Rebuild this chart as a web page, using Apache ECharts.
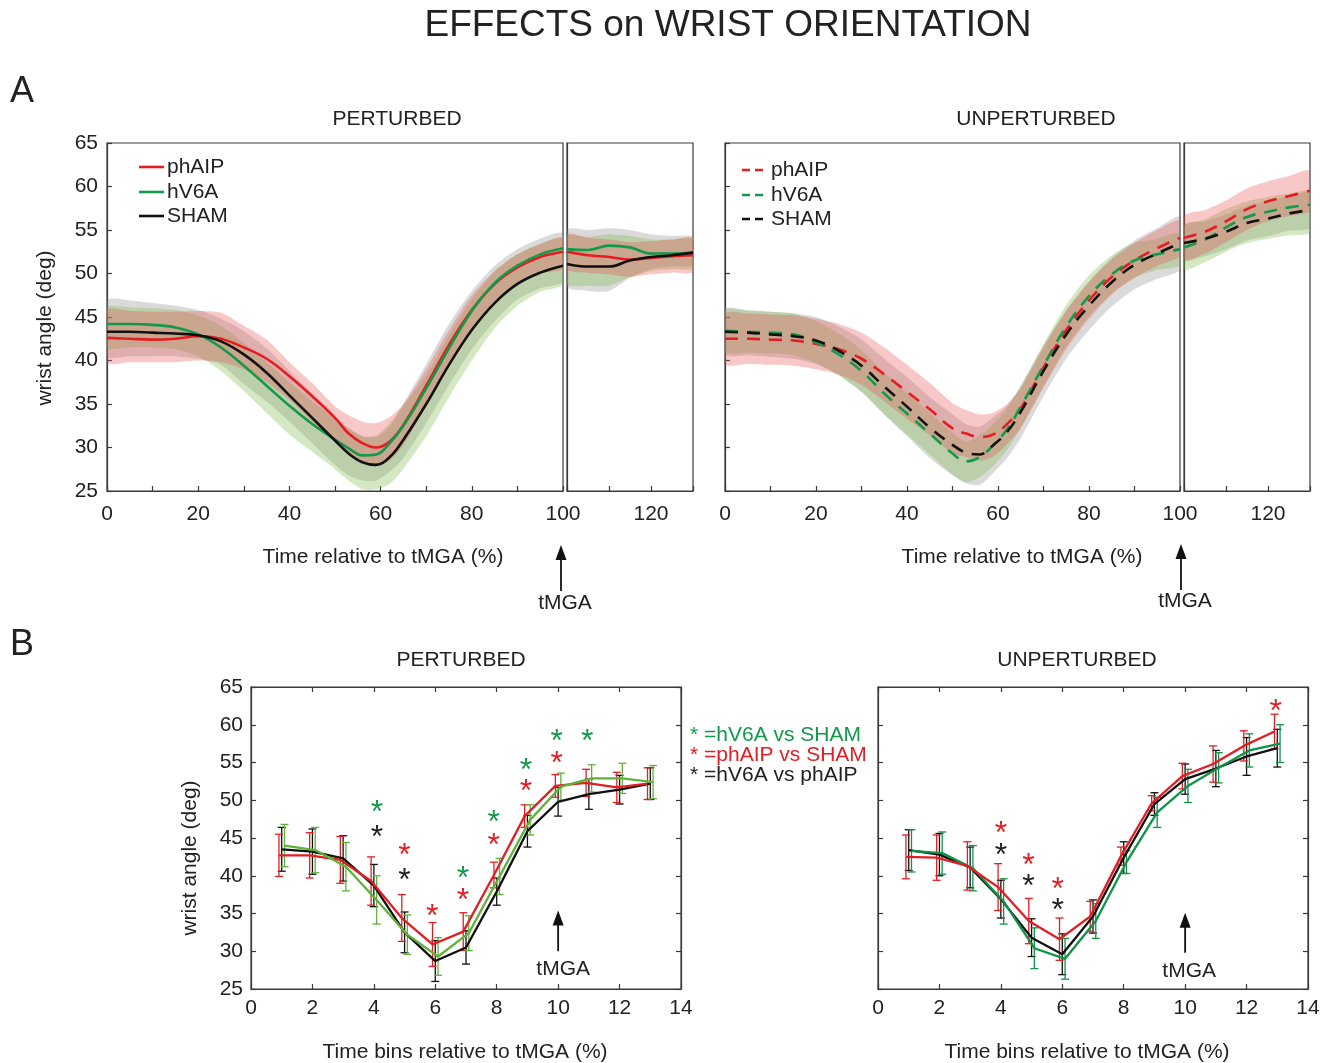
<!DOCTYPE html>
<html>
<head>
<meta charset="utf-8">
<script src="https://cdn.jsdelivr.net/npm/echarts/dist/echarts.min.js"></script>
<style>
  html, body { margin: 0; padding: 0; background: #fff; }
  #chart { width: 1330px; height: 1063px; }
</style>
</head>
<body>
<div id="chart"></div>
<script>
// ---- panel A: continuous time course (0-100 % to tMGA, then 100-130 after) ----
const timeMain = [0, 5, 10, 15, 20, 25, 30, 35, 40, 45, 50, 53, 56, 59, 62, 65, 70, 75, 80, 85, 90, 95, 100];
const timeAfter = [100, 105, 110, 115, 120, 125, 130];

// PERTURBED: mean and band limits
const pertPhAIP   = [42.6, 42.5, 42.4, 42.5, 42.8, 42.5, 41.5, 40.2, 38.2, 35.9, 33.4, 31.6, 30.5, 30.0, 30.7, 32.6, 37.1, 41.8, 45.8, 48.8, 50.7, 51.9, 52.5];
const pertPhAIPHi = [45.8, 45.7, 45.6, 45.6, 45.7, 45.5, 44.0, 42.4, 39.8, 37.4, 34.7, 33.7, 33.0, 32.8, 33.5, 35.0, 39.0, 43.5, 47.5, 50.3, 52.2, 53.4, 54.1];
const pertPhAIPLo = [39.8, 39.8, 39.8, 39.8, 40.0, 39.8, 39.0, 37.5, 35.5, 33.0, 30.8, 29.3, 28.4, 28.0, 28.5, 30.3, 34.8, 39.5, 43.5, 46.8, 48.8, 50.0, 50.6];
const pertHV6A    = [44.2, 44.2, 44.1, 43.8, 43.0, 41.5, 39.4, 37.1, 34.8, 32.7, 30.9, 29.9, 29.1, 29.2, 30.5, 32.5, 36.8, 41.4, 45.7, 48.9, 50.9, 52.2, 52.9];
const pertHV6AHi  = [46.1, 46.1, 46.0, 45.8, 45.2, 44.0, 42.0, 39.8, 37.5, 35.3, 33.3, 32.2, 31.3, 31.4, 32.8, 34.8, 38.3, 42.9, 47.0, 50.2, 52.2, 53.4, 54.0];
const pertHV6ALo  = [41.5, 41.5, 41.5, 41.3, 40.5, 38.8, 36.5, 34.0, 31.5, 29.5, 27.5, 26.2, 25.2, 25.2, 25.8, 27.6, 31.3, 35.8, 40.0, 43.7, 46.3, 47.9, 48.8];
const pertSham    = [43.3, 43.3, 43.2, 43.1, 42.9, 42.2, 40.7, 38.6, 36.0, 33.4, 30.8, 29.3, 28.3, 28.0, 28.9, 30.9, 35.0, 39.5, 43.5, 46.6, 48.8, 50.1, 50.9];
const pertShamHi  = [46.9, 46.9, 46.6, 46.3, 45.8, 44.8, 43.4, 41.4, 38.8, 36.2, 33.6, 32.2, 31.3, 31.2, 32.4, 35.0, 39.6, 44.2, 48.0, 50.9, 52.8, 54.0, 54.6];
const pertShamLo  = [40.5, 40.5, 40.5, 40.5, 40.2, 39.5, 37.3, 35.3, 33.0, 30.5, 28.0, 26.8, 26.2, 26.2, 27.2, 28.8, 32.8, 37.2, 41.3, 44.5, 47.0, 48.3, 49.1];

const pertPhAIPAfter   = [52.5, 52.1, 51.9, 51.6, 51.8, 52.0, 52.1];
const pertPhAIPAfterHi = [54.5, 54.1, 53.9, 53.6, 53.7, 53.9, 54.0];
const pertPhAIPAfterLo = [50.5, 50.1, 49.9, 49.6, 49.9, 50.1, 50.2];
const pertHV6AAfter    = [52.8, 52.7, 53.2, 53.0, 52.3, 52.3, 52.4];
const pertHV6AAfterHi  = [54.3, 54.2, 54.5, 54.3, 53.9, 53.9, 54.0];
const pertHV6AAfterLo  = [48.8, 48.6, 48.6, 49.6, 50.3, 50.5, 50.6];
const pertShamAfter    = [51.1, 50.8, 50.8, 51.5, 51.9, 52.1, 52.4];
const pertShamAfterHi  = [55.0, 55.0, 55.2, 55.0, 54.5, 54.3, 54.2];
const pertShamAfterLo  = [48.5, 48.0, 48.0, 49.5, 50.5, 50.8, 51.0];

// UNPERTURBED: mean and band limits
const unpPhAIP   = [42.5, 42.5, 42.4, 42.3, 41.9, 41.3, 40.2, 38.4, 36.4, 34.4, 32.2, 31.6, 31.2, 31.5, 32.7, 34.5, 39.2, 43.5, 46.9, 49.6, 51.5, 52.9, 54.1];
const unpPhAIPHi = [45.4, 45.4, 45.3, 45.2, 44.8, 44.2, 43.2, 41.5, 39.5, 37.4, 35.1, 34.3, 33.8, 34.0, 35.0, 36.8, 41.5, 45.7, 49.0, 51.6, 53.5, 55.0, 56.1];
const unpPhAIPLo = [39.6, 39.6, 39.5, 39.4, 39.0, 38.4, 37.2, 35.3, 33.3, 31.4, 29.3, 28.9, 28.5, 29.0, 30.4, 32.2, 36.9, 41.3, 44.8, 47.6, 49.5, 50.9, 52.1];
const unpHV6A    = [43.4, 43.3, 43.2, 43.0, 42.1, 40.7, 38.8, 36.2, 33.9, 31.6, 29.3, 28.4, 28.9, 30.3, 32.1, 34.7, 39.4, 43.9, 47.4, 49.9, 51.5, 52.2, 52.8];
const unpHV6AHi  = [45.8, 45.7, 45.6, 45.4, 44.5, 43.1, 41.2, 38.6, 36.3, 34.0, 31.7, 30.7, 31.4, 32.7, 34.5, 37.1, 41.9, 46.4, 49.8, 52.1, 53.5, 54.0, 54.6];
const unpHV6ALo  = [41.0, 40.9, 40.8, 40.6, 39.7, 38.3, 36.4, 33.8, 31.5, 29.2, 26.9, 26.0, 26.6, 27.9, 29.7, 32.3, 37.0, 41.6, 45.1, 47.7, 49.5, 50.4, 51.0];
const unpSham    = [43.3, 43.2, 43.0, 42.8, 42.3, 41.1, 39.4, 37.0, 34.7, 32.3, 30.3, 29.4, 29.2, 30.3, 31.8, 34.1, 38.8, 43.0, 46.3, 49.0, 51.0, 52.3, 53.5];
const unpShamHi  = [45.9, 45.8, 45.6, 45.4, 45.0, 43.9, 42.4, 40.2, 38.1, 35.8, 33.8, 32.7, 32.4, 33.5, 34.8, 37.1, 41.7, 45.8, 49.1, 51.8, 53.8, 55.2, 56.5];
const unpShamLo  = [40.7, 40.6, 40.4, 40.2, 39.6, 38.3, 36.4, 33.8, 31.3, 28.8, 26.8, 25.9, 25.7, 27.1, 28.8, 31.1, 35.9, 40.2, 43.5, 46.2, 48.2, 49.4, 50.5];

const unpPhAIPAfter   = [54.1, 54.8, 56.0, 57.4, 58.3, 58.9, 59.5];
const unpPhAIPAfterHi = [56.6, 57.3, 58.4, 59.8, 60.6, 61.2, 61.8];
const unpPhAIPAfterLo = [51.6, 52.3, 53.6, 55.0, 56.0, 56.6, 57.2];
const unpHV6AAfter    = [53.0, 53.9, 55.3, 56.5, 57.1, 57.6, 57.9];
const unpHV6AAfterHi  = [55.5, 56.2, 57.4, 58.3, 58.8, 59.2, 59.4];
const unpHV6AAfterLo  = [50.5, 51.3, 52.5, 53.5, 54.0, 54.4, 54.7];
const unpShamAfter    = [53.5, 54.0, 54.8, 55.8, 56.3, 56.9, 57.3];
const unpShamAfterHi  = [55.5, 56.0, 56.8, 57.8, 58.3, 58.9, 59.3];
const unpShamAfterLo  = [51.5, 52.0, 52.8, 53.8, 54.3, 54.9, 55.3];

// ---- panel B: time bins ----
const bins = [1, 2, 3, 4, 5, 6, 7, 8, 9, 10, 11, 12, 13];

const binPertPhAIP    = [42.7, 42.7, 42.1, 39.3, 34.4, 30.9, 32.6, 40.1, 47.9, 51.9, 52.3, 51.7, 52.2];
const binPertPhAIPErr = [2.8, 3.0, 3.1, 3.2, 3.1, 2.9, 2.5, 1.7, 1.5, 1.5, 1.8, 2.0, 2.1];
const binPertHV6A     = [44.0, 43.4, 41.2, 36.8, 32.2, 29.3, 32.4, 39.9, 47.4, 51.8, 52.9, 52.9, 52.4];
const binPertHV6AErr  = [2.8, 3.0, 3.2, 3.2, 2.6, 2.5, 2.3, 2.4, 2.0, 1.8, 1.8, 2.0, 2.2];
const binPertSham     = [43.5, 43.2, 42.3, 38.7, 32.5, 28.7, 30.5, 37.9, 45.9, 49.8, 50.8, 51.4, 52.2];
const binPertShamErr  = [2.9, 3.0, 3.0, 2.8, 2.7, 2.7, 2.2, 1.8, 2.1, 1.9, 2.0, 1.9, 2.1];

const binUnpPhAIP    = [42.5, 42.4, 41.3, 38.5, 34.0, 31.6, 34.6, 42.6, 49.6, 53.2, 54.8, 57.2, 59.1];
const binUnpPhAIPErr = [2.9, 3.0, 3.2, 3.1, 3.0, 2.8, 2.0, 1.2, 1.0, 1.7, 2.4, 2.0, 2.3];
const binUnpHV6A     = [43.3, 43.0, 41.0, 36.6, 30.4, 29.0, 34.0, 41.8, 48.4, 51.9, 54.3, 56.6, 57.5];
const binUnpHV6AErr  = [2.8, 2.8, 3.0, 3.0, 2.7, 2.7, 2.3, 1.5, 2.0, 2.2, 2.0, 2.2, 2.5];
const binUnpSham     = [43.4, 42.8, 41.1, 36.9, 31.8, 29.6, 34.6, 42.4, 49.5, 52.8, 54.2, 55.8, 56.9];
const binUnpShamErr  = [2.7, 2.8, 2.7, 2.5, 2.5, 2.7, 2.2, 2.1, 1.5, 2.0, 2.4, 2.5, 2.5];

// significance asterisks [bin, y]
const starsPertGreen = [[4.1, 49.3], [6.9, 40.6], [7.9, 48.0], [8.95, 54.9], [9.95, 58.8], [10.95, 58.8]];
const starsPertRed   = [[5.0, 43.6], [5.9, 35.6], [6.9, 37.7], [7.9, 45.0], [8.95, 52.1], [9.95, 55.9]];
const starsPertBlack = [[4.1, 46.1], [5.0, 40.4]];
const starsUnpRed    = [[4.0, 46.6], [4.9, 42.3], [5.85, 39.2], [12.95, 62.7]];
const starsUnpBlack  = [[4.0, 43.7], [4.9, 39.5], [5.85, 36.4]];

const FONT = '"Liberation Sans", Arial, Helvetica, sans-serif';
const RED = '#e41d23', GREEN = '#12994a', LIME = '#5fb238', DARKGREEN = '#0f9447', BLACK = '#111111';
const FILL_RED = 'rgba(232,80,80,0.32)', FILL_GREEN = 'rgba(120,185,70,0.32)', FILL_GREY = 'rgba(140,140,140,0.32)';
const AXIS = '#3a3a3a';

const chart = echarts.init(document.getElementById('chart'));

function band(ax, times, lo, hi, fill) {
  return {
    type: 'custom', xAxisIndex: ax, yAxisIndex: ax, silent: true, clip: true, z: 1,
    data: [[times[0], lo[0]]],
    encode: { x: 0, y: 1 },
    renderItem: (params, api) => {
      const top = times.map((t, i) => api.coord([t, hi[i]]));
      const bot = times.map((t, i) => api.coord([t, lo[i]])).reverse();
      return { type: 'polygon', shape: { points: top.concat(bot), smooth: 0.25 }, style: { fill: fill } };
    }
  };
}

function curve(ax, times, mean, color, dashed) {
  return {
    type: 'line', xAxisIndex: ax, yAxisIndex: ax, silent: true, z: 3,
    data: times.map((t, i) => [t, mean[i]]),
    smooth: 0.4, symbol: 'none',
    lineStyle: { color: color, width: 2.6, type: dashed ? [13, 9] : 'solid' }
  };
}

const OFF = { red: -0.09, black: 0, green: 0.09 };

function binLine(ax, mean, off, color, z) {
  return {
    type: 'line', xAxisIndex: ax, yAxisIndex: ax, silent: true, z: z,
    data: bins.map((b, i) => [b + off, mean[i]]),
    symbol: 'none', lineStyle: { color: color, width: 2.3 }
  };
}

function errorBars(ax, mean, err, off, color, z) {
  return {
    type: 'custom', xAxisIndex: ax, yAxisIndex: ax, silent: true, z: z,
    data: bins.map((b, i) => [b + off, mean[i] - err[i], mean[i] + err[i]]),
    encode: { x: 0, y: [1, 2] },
    renderItem: (params, api) => {
      const lo = api.coord([api.value(0), api.value(1)]);
      const hi = api.coord([api.value(0), api.value(2)]);
      const w = 4, st = { stroke: color, lineWidth: 1.3 };
      return {
        type: 'group', children: [
          { type: 'line', shape: { x1: lo[0], y1: lo[1], x2: hi[0], y2: hi[1] }, style: st },
          { type: 'line', shape: { x1: lo[0] - w, y1: lo[1], x2: lo[0] + w, y2: lo[1] }, style: st },
          { type: 'line', shape: { x1: hi[0] - w, y1: hi[1], x2: hi[0] + w, y2: hi[1] }, style: st }
        ]
      };
    }
  };
}

function stars(ax, pts, color) {
  return {
    type: 'custom', xAxisIndex: ax, yAxisIndex: ax, silent: true, z: 6,
    data: pts, encode: { x: 0, y: 1 },
    renderItem: (params, api) => {
      const c = api.coord([api.value(0), api.value(1)]);
      return {
        type: 'text', x: c[0], y: c[1] + 8,
        style: { text: '*', fill: color, font: '32px ' + FONT, textAlign: 'center', textVerticalAlign: 'middle' }
      };
    }
  };
}

const gridBox = { show: true, borderColor: AXIS, borderWidth: 1.2, containLabel: false, outerBoundsMode: 'none' };
const grid = [
  { left: 107, top: 143, width: 456, height: 348 },
  { left: 567, top: 143, width: 126, height: 348 },
  { left: 725, top: 143, width: 455, height: 348 },
  { left: 1184, top: 143, width: 126, height: 348 },
  { left: 251, top: 687, width: 430, height: 302 },
  { left: 878, top: 687, width: 430, height: 302 }
].map(g => Object.assign({}, gridBox, g));

function axis(gridIndex, min, max, interval, extra) {
  return Object.assign({
    type: 'value', gridIndex: gridIndex, min: min, max: max, interval: interval,
    axisLine: { show: true, onZero: false, lineStyle: { color: AXIS, width: 1.2 } },
    axisTick: { show: true, inside: true, length: 5, lineStyle: { color: AXIS, width: 1.2 } },
    splitLine: { show: false },
    axisLabel: { show: true, fontSize: 21, color: '#222', fontFamily: FONT }
  }, extra || {});
}

const mainLabels = { show: true, fontSize: 21, color: '#222', fontFamily: FONT, margin: 13, formatter: v => (v % 20 === 0 ? String(v) : '') };
const afterLabels = { show: true, fontSize: 21, color: '#222', fontFamily: FONT, margin: 13, formatter: v => (v === 120 ? '120' : '') };
const noLabels = { show: false };

const xAxis = [
  axis(0, 0, 100, 10, { axisLabel: mainLabels }),
  axis(1, 100, 130, 10, { axisLabel: afterLabels }),
  axis(2, 0, 100, 10, { axisLabel: mainLabels }),
  axis(3, 100, 130, 10, { axisLabel: afterLabels }),
  axis(4, 0, 14, 2, { axisLabel: { fontSize: 21, color: '#222', fontFamily: FONT, margin: 9 } }),
  axis(5, 0, 14, 2, { axisLabel: { fontSize: 21, color: '#222', fontFamily: FONT, margin: 9 } }),
  axis(4, 0, 14, 2, { position: 'top', axisLabel: noLabels }),
  axis(5, 0, 14, 2, { position: 'top', axisLabel: noLabels })
];
const yAxis = [
  axis(0, 25, 65, 5, { axisLabel: { fontSize: 21, color: '#222', fontFamily: FONT, margin: 9 } }),
  axis(1, 25, 65, 5, { axisLabel: noLabels, axisTick: { show: false } }),
  axis(2, 25, 65, 5, { axisLabel: noLabels }),
  axis(3, 25, 65, 5, { axisLabel: noLabels, axisTick: { show: false } }),
  axis(4, 25, 65, 5, { axisLabel: { fontSize: 21, color: '#222', fontFamily: FONT, margin: 8 } }),
  axis(5, 25, 65, 5, { axisLabel: noLabels }),
  axis(4, 25, 65, 5, { position: 'right', axisLabel: noLabels }),
  axis(5, 25, 65, 5, { position: 'right', axisLabel: noLabels })
];

const series = [
  // A perturbed
  band(0, timeMain, pertShamLo, pertShamHi, FILL_GREY),
  band(0, timeMain, pertHV6ALo, pertHV6AHi, FILL_GREEN),
  band(0, timeMain, pertPhAIPLo, pertPhAIPHi, FILL_RED),
  curve(0, timeMain, pertPhAIP, RED, false),
  curve(0, timeMain, pertHV6A, GREEN, false),
  curve(0, timeMain, pertSham, BLACK, false),
  band(1, timeAfter, pertShamAfterLo, pertShamAfterHi, FILL_GREY),
  band(1, timeAfter, pertHV6AAfterLo, pertHV6AAfterHi, FILL_GREEN),
  band(1, timeAfter, pertPhAIPAfterLo, pertPhAIPAfterHi, FILL_RED),
  curve(1, timeAfter, pertPhAIPAfter, RED, false),
  curve(1, timeAfter, pertHV6AAfter, GREEN, false),
  curve(1, timeAfter, pertShamAfter, BLACK, false),
  // A unperturbed
  band(2, timeMain, unpShamLo, unpShamHi, FILL_GREY),
  band(2, timeMain, unpHV6ALo, unpHV6AHi, FILL_GREEN),
  band(2, timeMain, unpPhAIPLo, unpPhAIPHi, FILL_RED),
  curve(2, timeMain, unpPhAIP, RED, true),
  curve(2, timeMain, unpHV6A, GREEN, true),
  curve(2, timeMain, unpSham, BLACK, true),
  band(3, timeAfter, unpShamAfterLo, unpShamAfterHi, FILL_GREY),
  band(3, timeAfter, unpHV6AAfterLo, unpHV6AAfterHi, FILL_GREEN),
  band(3, timeAfter, unpPhAIPAfterLo, unpPhAIPAfterHi, FILL_RED),
  curve(3, timeAfter, unpPhAIPAfter, RED, true),
  curve(3, timeAfter, unpHV6AAfter, GREEN, true),
  curve(3, timeAfter, unpShamAfter, BLACK, true),
  // B perturbed
  errorBars(4, binPertSham, binPertShamErr, OFF.black, BLACK, 2),
  errorBars(4, binPertPhAIP, binPertPhAIPErr, OFF.red, RED, 2),
  errorBars(4, binPertHV6A, binPertHV6AErr, OFF.green, LIME, 2),
  binLine(4, binPertSham, OFF.black, BLACK, 3),
  binLine(4, binPertPhAIP, OFF.red, RED, 4),
  binLine(4, binPertHV6A, OFF.green, LIME, 5),
  stars(4, starsPertGreen, GREEN),
  stars(4, starsPertRed, RED),
  stars(4, starsPertBlack, '#222'),
  // B unperturbed
  errorBars(5, binUnpSham, binUnpShamErr, OFF.black, BLACK, 2),
  errorBars(5, binUnpHV6A, binUnpHV6AErr, OFF.green, DARKGREEN, 2),
  errorBars(5, binUnpPhAIP, binUnpPhAIPErr, OFF.red, RED, 2),
  binLine(5, binUnpSham, OFF.black, BLACK, 3),
  binLine(5, binUnpHV6A, OFF.green, DARKGREEN, 4),
  binLine(5, binUnpPhAIP, OFF.red, RED, 5),
  stars(5, starsUnpRed, RED),
  stars(5, starsUnpBlack, '#222')
];

chart.setOption({
  animation: false,
  backgroundColor: '#fff',
  grid: grid, xAxis: xAxis, yAxis: yAxis, series: series
});

// ---- annotations (titles, legends, tMGA arrows) ----
function txt(text, x, y, size, opts) {
  return Object.assign({
    type: 'text', x: x, y: y, silent: true,
    style: Object.assign({ text: text, font: size + 'px ' + FONT, fill: '#222', textAlign: 'center', textVerticalAlign: 'middle' }, (opts && opts.style) || {})
  }, opts && opts.rotation ? { rotation: opts.rotation } : {});
}
function seg(x1, y1, x2, y2, color, dash) {
  return { type: 'line', silent: true, shape: { x1: x1, y1: y1, x2: x2, y2: y2 }, style: { stroke: color, lineWidth: 2.6, lineDash: dash ? [8, 5] : null } };
}
function arrow(x, yTip, yBase) {
  return [
    { type: 'line', silent: true, shape: { x1: x, y1: yBase, x2: x, y2: yTip + 10 }, style: { stroke: '#111', lineWidth: 1.8 } },
    { type: 'polygon', silent: true, shape: { points: [[x, yTip], [x - 5.5, yTip + 15], [x + 5.5, yTip + 15]] }, style: { fill: '#111' } }
  ];
}

const xA0 = chart.convertToPixel({ xAxisIndex: 0 }, 100);
const xA2 = chart.convertToPixel({ xAxisIndex: 2 }, 100);
const pB4 = chart.convertToPixel({ xAxisIndex: 4, yAxisIndex: 4 }, [10, 30]);
const tB4 = chart.convertToPixel({ xAxisIndex: 4, yAxisIndex: 4 }, [10, 35.4]);
const pB5 = chart.convertToPixel({ xAxisIndex: 5, yAxisIndex: 5 }, [10, 29.8]);
const tB5 = chart.convertToPixel({ xAxisIndex: 5, yAxisIndex: 5 }, [10, 35.1]);

const left = { style: { textAlign: 'left' } };
const graphic = [
  txt('EFFECTS on WRIST ORIENTATION', 728, 26, 37),
  txt('A', 10, 92, 36, left),
  txt('B', 10, 645, 36, left),
  txt('PERTURBED', 397, 119, 21),
  txt('UNPERTURBED', 1036, 119, 21),
  txt('PERTURBED', 461, 660, 21),
  txt('UNPERTURBED', 1077, 660, 21),
  txt('wrist angle (deg)', 45, 328, 21, { rotation: Math.PI / 2 }),
  txt('wrist angle (deg)', 190, 858, 21, { rotation: Math.PI / 2 }),
  txt('Time relative to tMGA (%)', 383, 557, 21),
  txt('Time relative to tMGA (%)', 1022, 557, 21),
  txt('Time bins relative to tMGA (%)', 465, 1052, 21),
  txt('Time bins relative to tMGA (%)', 1087, 1052, 21),
  // legend A perturbed
  seg(139, 167, 164, 167, RED), txt('phAIP', 167, 167, 21, left),
  seg(139, 192, 164, 192, GREEN), txt('hV6A', 167, 192, 21, left),
  seg(139, 216, 164, 216, BLACK), txt('SHAM', 167, 216, 21, left),
  // legend A unperturbed
  seg(742, 170, 768, 170, RED, true), txt('phAIP', 771, 170, 21, left),
  seg(742, 195, 768, 195, GREEN, true), txt('hV6A', 771, 195, 21, left),
  seg(742, 219, 768, 219, BLACK, true), txt('SHAM', 771, 219, 21, left),
  // significance legend
  txt('* =hV6A vs SHAM', 690, 735, 21, { style: { textAlign: 'left', fill: GREEN } }),
  txt('* =phAIP vs SHAM', 690, 755, 21, { style: { textAlign: 'left', fill: RED } }),
  txt('* =hV6A vs phAIP', 690, 775, 21, { style: { textAlign: 'left', fill: '#222' } }),
  // tMGA markers
  ...arrow(xA0 - 2, 545, 591), txt('tMGA', xA0 + 2, 603, 21),
  ...arrow(xA2 + 1, 544, 590), txt('tMGA', xA2 + 5, 601, 21),
  ...arrow(tB4[0], tB4[1], pB4[1]), txt('tMGA', tB4[0] + 5, pB4[1] + 18, 21),
  ...arrow(tB5[0], tB5[1], pB5[1]), txt('tMGA', tB5[0] + 4, pB5[1] + 18, 21)
];
chart.setOption({ graphic: graphic });

window.addEventListener('resize', () => chart.resize());
</script>
</body>
</html>
